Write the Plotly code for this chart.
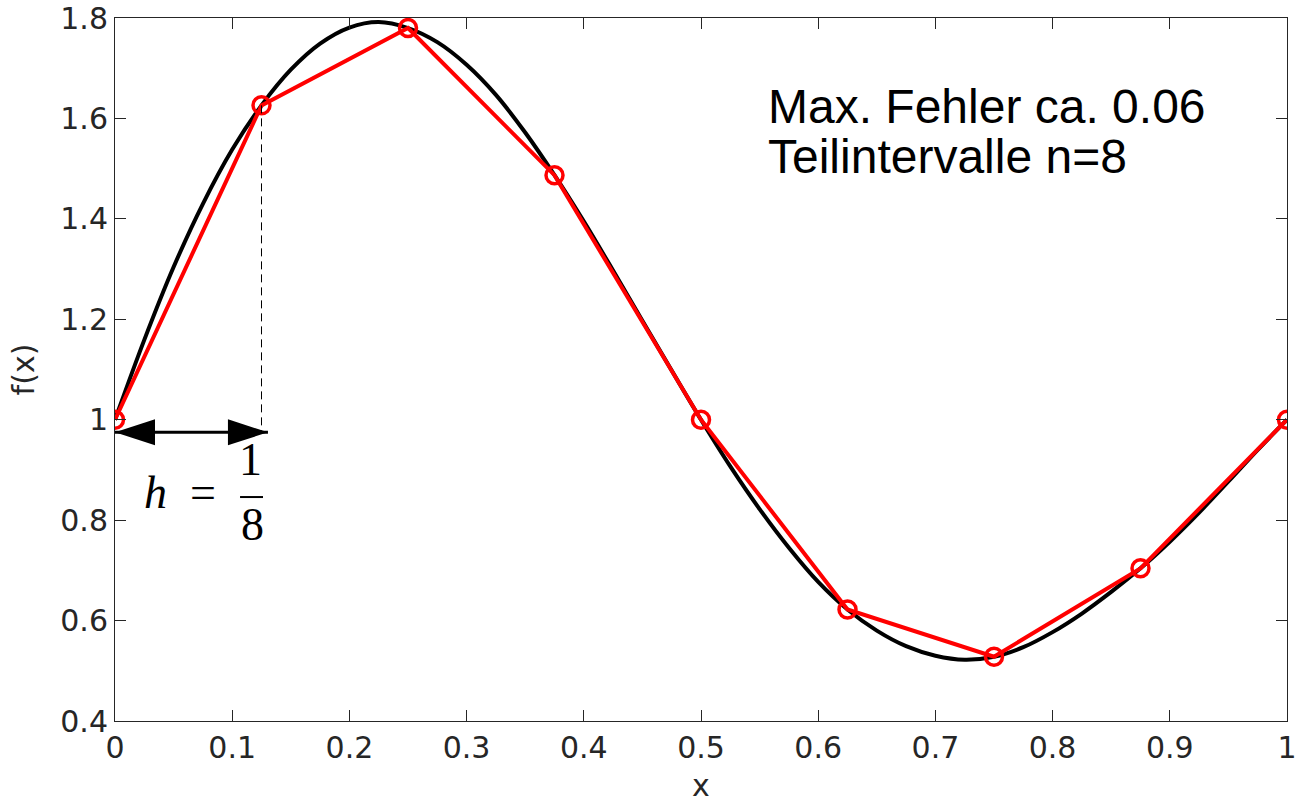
import plotly.graph_objects as go

# ---- data ----
# sample points of the piecewise-linear interpolant (n = 8)
x_nodes = [0.0, 0.125, 0.25, 0.375, 0.5, 0.625, 0.75, 0.875, 1.0]
y_nodes = [1.0, 1.626, 1.780, 1.487, 1.0, 0.622, 0.528, 0.704, 1.0]

# points
x_curve = [0.000, 0.025, 0.050, 0.075, 0.100, 0.125, 0.150, 0.175, 0.200, 0.225,
           0.250, 0.275, 0.300, 0.325, 0.350, 0.375, 0.400, 0.425, 0.450, 0.475,
           0.500, 0.525, 0.550, 0.575, 0.600, 0.625, 0.650, 0.675, 0.700, 0.725,
           0.750, 0.775, 0.800, 0.825, 0.850, 0.875, 0.900, 0.925, 0.950, 0.975,
           1.000]
y_curve = [1.000, 1.159, 1.304, 1.430, 1.538, 1.626, 1.697, 1.749, 1.781, 1.792,
           1.780, 1.752, 1.707, 1.647, 1.572, 1.487, 1.395, 1.297, 1.197, 1.098,
           1.000, 0.907, 0.822, 0.745, 0.677, 0.622, 0.580, 0.549, 0.530, 0.522,
           0.528, 0.547, 0.577, 0.614, 0.657, 0.704, 0.757, 0.815, 0.877, 0.940,
           1.000]

x_tick_vals = [0, 0.1, 0.2, 0.3, 0.4, 0.5, 0.6, 0.7, 0.8, 0.9, 1.0]
x_tick_text = ["0", "0.1", "0.2", "0.3", "0.4", "0.5", "0.6", "0.7", "0.8", "0.9", "1"]
y_tick_vals = [0.4, 0.6, 0.8, 1.0, 1.2, 1.4, 1.6, 1.8]
y_tick_text = ["0.4", "0.6", "0.8", "1", "1.2", "1.4", "1.6", "1.8"]

info_lines = ["Max. Fehler ca. 0.06", "Teilintervalle n=8"]

# step-width arrow (from x=0 to the first node, drawn slightly past it)
arrow_x = [0.0, 0.1305]
arrow_y = 0.975

AX = "#262626"
TICKFONT = dict(family="DejaVu Sans", size=30, color=AX)

fig = go.Figure()
fig.add_trace(go.Scatter(
    x=x_curve, y=y_curve, mode="lines",
    line=dict(color="black", width=4, shape="spline", smoothing=1.0),
    showlegend=False, hoverinfo="skip"))
fig.add_trace(go.Scatter(
    x=x_nodes, y=y_nodes, mode="lines+markers",
    line=dict(color="#ff0000", width=4),
    marker=dict(symbol="circle-open", size=17, color="#ff0000",
                line=dict(width=3.5, color="#ff0000")),
    showlegend=False))

shapes = [
    # dashed helper line at x = h
    dict(type="line", xref="x", yref="y", x0=x_nodes[1], x1=x_nodes[1],
         y0=y_nodes[1], y1=arrow_y, line=dict(color="black", width=1, dash="8px,5px")),
    # arrow shaft
    dict(type="line", xref="x", yref="y", x0=arrow_x[0], x1=arrow_x[1],
         y0=arrow_y, y1=arrow_y, line=dict(color="black", width=3)),
    # arrow heads
    dict(type="path", xref="x", yref="y", xsizemode="pixel", ysizemode="pixel",
         xanchor=arrow_x[0], yanchor=arrow_y, path="M0,0 L40,13 L40,-13 Z",
         fillcolor="black", line=dict(width=0)),
    dict(type="path", xref="x", yref="y", xsizemode="pixel", ysizemode="pixel",
         xanchor=arrow_x[1], yanchor=arrow_y, path="M0,0 L-40,13 L-40,-13 Z",
         fillcolor="black", line=dict(width=0)),
    # fraction bar of 1/8
    dict(type="line", xref="x", yref="y", x0=0.1067, x1=0.1263, y0=0.846, y1=0.846,
         line=dict(color="black", width=2)),
]

SERIF = dict(family="Liberation Serif", size=46, color="black")
SANS = dict(family="Liberation Sans", size=48, color="black")
annotations = [
    dict(x=0.5555, y=1.624, xref="x", yref="y", text=info_lines[0], showarrow=False,
         xanchor="left", yanchor="middle", font=SANS),
    dict(x=0.5555, y=1.5245, xref="x", yref="y", text=info_lines[1], showarrow=False,
         xanchor="left", yanchor="middle", font=SANS),
    dict(x=0.0555, y=0.855, xref="x", yref="y", text="<i>h</i>  =", showarrow=False,
         xanchor="center", yanchor="middle", font=SERIF),
    dict(x=0.1152, y=0.921, xref="x", yref="y", text="1", showarrow=False,
         xanchor="center", yanchor="middle", font=SERIF),
    dict(x=0.1169, y=0.7914, xref="x", yref="y", text="8", showarrow=False,
         xanchor="center", yanchor="middle", font=SERIF),
]

fig.update_layout(
    width=1297, height=803,
    margin=dict(l=115, r=10, t=18, b=82),
    paper_bgcolor="white", plot_bgcolor="white",
    shapes=shapes, annotations=annotations,
    xaxis=dict(range=[0, 1], tickvals=x_tick_vals, ticktext=x_tick_text,
               ticks="inside", ticklen=11, tickcolor=AX, tickwidth=1,
               showline=True, linecolor=AX, linewidth=1, mirror="ticks",
               showgrid=False, zeroline=False, tickfont=TICKFONT, automargin=False,
               title=dict(text="x", font=TICKFONT, standoff=14)),
    yaxis=dict(range=[0.4, 1.8], tickvals=y_tick_vals, ticktext=y_tick_text,
               ticks="inside", ticklen=11, tickcolor=AX, tickwidth=1,
               showline=True, linecolor=AX, linewidth=1, mirror="ticks",
               showgrid=False, zeroline=False, tickfont=TICKFONT, automargin=False,
               title=dict(text="f(x)", font=TICKFONT, standoff=16)),
)

fig.write_html("out.html")
